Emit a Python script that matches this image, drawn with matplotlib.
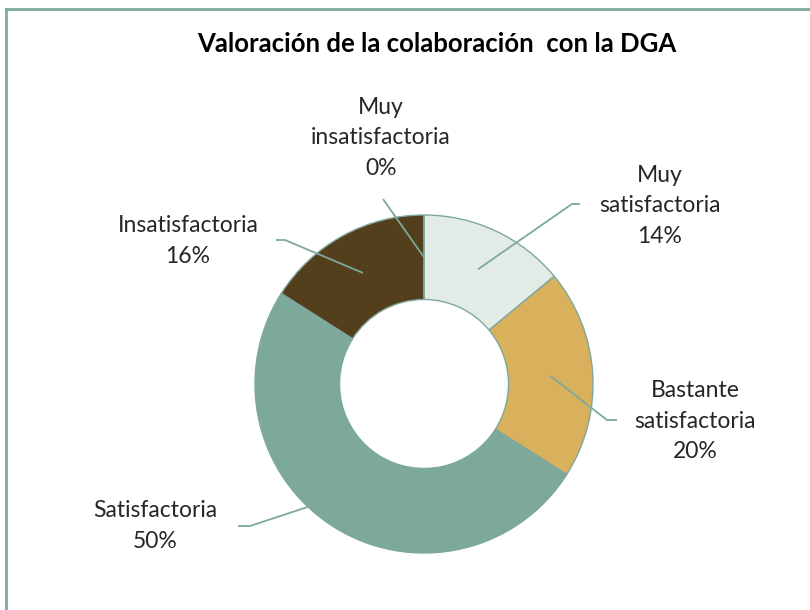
import numpy as np
import matplotlib.pyplot as plt
from matplotlib.lines import Line2D

# ── Data ──────────────────────────────────────────────────────────────────────
categories = ["Muy\nsatisfactoria", "Bastante\nsatisfactoria", "Satisfactoria",
              "Insatisfactoria", "Muy\ninsatisfactoria"]
values = [14, 20, 50, 16, 0]
colors = ["#E3EBE7", "#D9B15D", "#7DA89C", "#533F1C", "#8B8B8B"]
title = "Valoración de la colaboración  con la DGA"

# label text positions (pixels, y from top) and elbow x of leader line
label_pos = [(660, 206), (695, 421), (155, 526), (188, 241), (381, 138)]
elbow = [(572, 580, 204), (607, 617, 420), (250, 238, 526), (285, 276, 240), None]
leader_start = [None, None, None, None, (383, 199)]

# ── Figure ────────────────────────────────────────────────────────────────────
plt.rcParams['font.family'] = ['Lato', 'DejaVu Sans']
W, H = 810, 610
fig = plt.figure(figsize=(W / 100, H / 100), dpi=100)
ax = fig.add_axes([0, 0, 1, 1])

cx, cy, r_out = 424, H - 384, 169
width = 0.5
wedges, _ = ax.pie(values, colors=colors, startangle=90, counterclock=False,
                   center=(cx, cy), radius=r_out, frame=True,
                   wedgeprops=dict(width=r_out * width, edgecolor="#7DA89C",
                                   linewidth=1.0))
ax.set_xlim(0, W)
ax.set_ylim(0, H)
ax.set_aspect('equal')
ax.axis('off')

line_col = "#7DA89C"
r_mid = r_out * (1 - width / 2)
total = sum(values)
cum = 0
for i, (lab, v) in enumerate(zip(categories, values)):
    mid = 90 - (cum + v / 2) / total * 360
    cum += v
    ax_x = cx + r_mid * np.cos(np.radians(mid))
    ax_y = cy + r_mid * np.sin(np.radians(mid))
    if elbow[i] is not None:
        bx, ex, ey = elbow[i]
        xs = [ex, bx, ax_x]
        ys = [H - ey, H - ey, ax_y]
    else:
        sx, sy = leader_start[i]
        xs = [sx, ax_x]
        ys = [H - sy, ax_y]
    ax.plot(xs, ys, color=line_col, lw=1.3, solid_capstyle='butt')
    tx, ty = label_pos[i]
    ax.text(tx, H - ty, f"{lab}\n{v}%", ha='center', va='center',
            fontsize=16.5, color="#262626", linespacing=1.55)

ax.text(437, H - 44, title, ha='center', va='center', fontsize=18.5,
        fontweight='bold', color="#000000")

# chart frame (only top and left edges visible)
fig.add_artist(Line2D([6 / W, 1], [1 - 9 / H, 1 - 9 / H], color="#7FAA9E", lw=2))
fig.add_artist(Line2D([6 / W, 6 / W], [0, 1 - 9 / H], color="#7FAA9E", lw=2))

fig.savefig("out.png", dpi=100)
